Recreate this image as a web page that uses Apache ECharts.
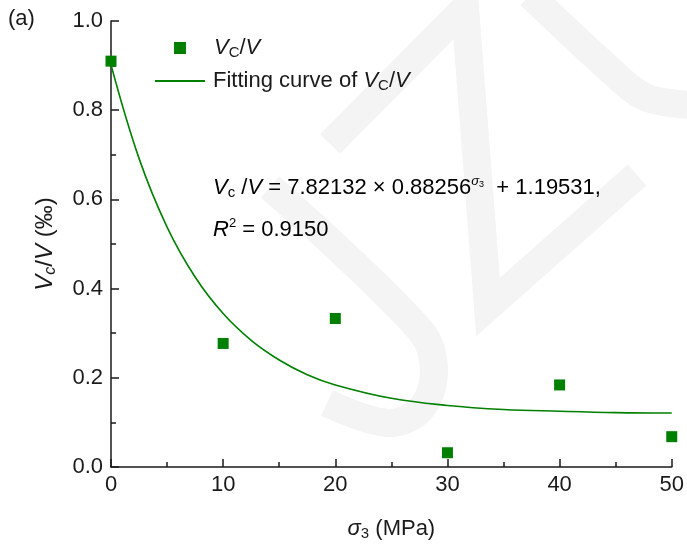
<!DOCTYPE html>
<html>
<head>
<meta charset="utf-8">
<script src="https://cdn.jsdelivr.net/npm/echarts@6/dist/echarts.min.js"></script>
<style>
html, body { margin: 0; padding: 0; background: #fff; }
#container { width: 687px; height: 546px; }
</style>
</head>
<body>
<div id="container"></div>
<script>
// measured points
var stress = [0, 10, 20, 30, 40, 50];
var ratio = [0.91, 0.277, 0.333, 0.032, 0.184, 0.068];
// fitted curve
var fitX = [0, 2.5, 5, 7.5, 10, 12.5, 15, 17.5, 20, 25, 30, 35, 40, 45, 50];
var fitY = [0.902, 0.692, 0.538, 0.426, 0.344, 0.284, 0.240, 0.207, 0.184, 0.154, 0.138, 0.129, 0.125, 0.122, 0.121];
var xTicks = [0, 10, 20, 30, 40, 50];
var yTicks = ['0.0', '0.2', '0.4', '0.6', '0.8', '1.0'];

var green = '#008000';
var ink = '#1a1a1a';
var FONT = '"Liberation Sans", Arial, sans-serif';
var wm = '#f4f4f4';

var rich = {
    n: { fontFamily: FONT, fontSize: 22, color: ink },
    v: { fontFamily: FONT, fontSize: 22, fontStyle: 'italic', color: ink },
    sub: { fontFamily: FONT, fontSize: 15, color: ink, padding: [10, 0, 0, 0] },
    sup: { fontFamily: FONT, fontSize: 13, fontStyle: 'italic', color: ink, padding: [0, 0, 12, 0] },
    sup3: { fontFamily: FONT, fontSize: 9, color: ink, padding: [0, 0, 6, 0] },
    sup2: { fontFamily: FONT, fontSize: 13, color: ink, padding: [0, 0, 12, 0] },
    pad1: { width: 23 },
    pad2: { width: 3 }
};
// slightly bigger text for the y axis title
var richY = {
    n: { fontFamily: FONT, fontSize: 24, color: ink },
    v: { fontFamily: FONT, fontSize: 24, fontStyle: 'italic', color: ink },
    sub: { fontFamily: FONT, fontSize: 16, fontStyle: 'italic', color: ink, padding: [11, 0, 0, 0] }
};

var myChart = echarts.init(document.getElementById('container'));

myChart.setOption({
    animation: false,
    backgroundColor: '#fff',
    textStyle: { fontFamily: FONT },
    grid: { left: 111, right: 14, top: 21, bottom: 76, containLabel: false },
    legend: [
        {
            data: [{ name: 'VC/V', icon: 'rect' }],
            left: 174, top: 37, padding: 0,
            itemWidth: 12, itemHeight: 12,
            formatter: function () { return '{pad1|}{v|V}{sub|C}{n|/}{v|V}'; },
            textStyle: { rich: rich }
        },
        {
            data: [{ name: 'Fitting curve of VC/V', icon: 'rect' }],
            left: 155, top: 70, padding: 0,
            itemWidth: 50, itemHeight: 2,
            formatter: function () { return '{pad2|}{n|Fitting curve of }{v|V}{sub|C}{n|/}{v|V}'; },
            textStyle: { rich: rich }
        }
    ],
    xAxis: {
        type: 'value',
        min: 0, max: 50, interval: 10,
        name: '{v|σ}{sub|3}{n| (MPa)}',
        nameLocation: 'middle',
        nameGap: 49,
        nameTextStyle: { rich: rich },
        axisLine: { show: true, onZero: false, lineStyle: { color: ink, width: 1.5 } },
        axisTick: { show: true, inside: true, length: 8, lineStyle: { color: ink, width: 1.5 } },
        minorTick: { show: true, splitNumber: 2, length: 5, lineStyle: { color: ink, width: 1.5 } },
        axisLabel: {
            fontFamily: FONT, fontSize: 22, color: ink, margin: 7,
            formatter: function (v) { return xTicks.indexOf(v) >= 0 ? String(v) : ''; }
        },
        splitLine: { show: false }
    },
    yAxis: {
        type: 'value',
        min: 0, max: 1, interval: 0.2,
        name: '{v|V}{sub|c}{n|/}{v|V}{n| (‰)}',
        nameLocation: 'middle',
        nameRotate: 90,
        nameGap: 52,
        nameTextStyle: { rich: richY },
        axisLine: { show: true, onZero: false, lineStyle: { color: ink, width: 1.5 } },
        axisTick: { show: true, inside: true, length: 8, lineStyle: { color: ink, width: 1.5 } },
        minorTick: { show: true, splitNumber: 2, length: 5, lineStyle: { color: ink, width: 1.5 } },
        axisLabel: {
            fontFamily: FONT, fontSize: 22, color: ink, margin: 8,
            formatter: function (v) { return yTicks[Math.round(v * 5)]; }
        },
        splitLine: { show: false }
    },
    graphic: [
        // light watermark strokes in the background
        { type: 'polyline', z: -10, silent: true,
          shape: { points: [[330, 144], [465, 8], [488, 307], [637, 175]] },
          style: { stroke: wm, lineWidth: 28, fill: null, lineJoin: 'miter' } },
        { type: 'polyline', z: -10, silent: true,
          shape: { points: [[270, 187], [420, 330], [434, 372], [420, 410], [387, 423], [327, 403]], smooth: 0.35 },
          style: { stroke: wm, lineWidth: 28, fill: null } },
        { type: 'polyline', z: -10, silent: true,
          shape: { points: [[530, -5], [607, 67], [645, 97], [690, 105]], smooth: 0.35 },
          style: { stroke: wm, lineWidth: 28, fill: null } },
        { type: 'text', left: 8, top: 8,
          style: { text: '(a)', font: '22px ' + FONT, fill: ink } },
        { type: 'text', left: 213, top: 175,
          style: { text: '{v|V}{sub|c}{n| /}{v|V}{n| = 7.82132 × 0.88256}{sup|σ}{sup3|3}{n|  + 1.19531,}', rich: rich } },
        { type: 'text', left: 213, top: 217,
          style: { text: '{v|R}{sup2|2}{n| = 0.9150}', rich: rich } }
    ],
    series: [
        {
            name: 'VC/V',
            type: 'scatter',
            symbol: 'rect',
            symbolSize: 11,
            itemStyle: { color: green, opacity: 1 },
            data: stress.map(function (x, i) { return [x, ratio[i]]; }),
            z: 3
        },
        {
            name: 'Fitting curve of VC/V',
            type: 'line',
            symbol: 'none',
            smooth: 0.4,
            lineStyle: { color: green, width: 1.6 },
            itemStyle: { color: green },
            data: fitX.map(function (x, i) { return [x, fitY[i]]; }),
            z: 2
        }
    ]
});
</script>
</body>
</html>
